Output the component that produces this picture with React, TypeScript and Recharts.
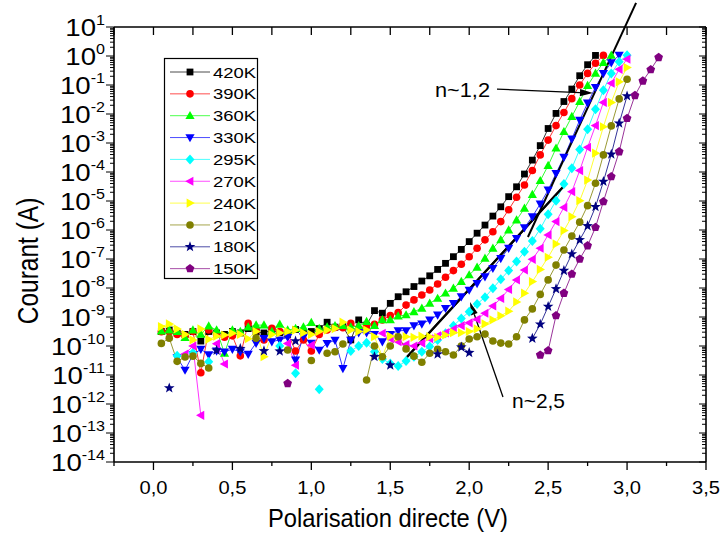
import { LineChart, Line, XAxis, YAxis, ReferenceLine } from "recharts";
/* eslint-disable  @typescript-eslint/no-explicit-any */

const FONT = "Arial, 'Liberation Sans', Helvetica, sans-serif";

// plot frame in page pixels (set by the chart margins and axis sizes below)
const PLOT_LEFT = 114;
const PLOT_RIGHT = 706;
const PLOT_TOP = 27;
const X_MIN = -0.25;
const X_MAX = 3.5;

// forward bias (V), one reading every 50 mV
const volts = [
  0.05, 0.1, 0.15, 0.2, 0.25, 0.3, 0.35, 0.4, 0.45, 0.5,
  0.55, 0.6, 0.65, 0.7, 0.75, 0.8, 0.85, 0.9, 0.95, 1.0,
  1.05, 1.1, 1.15, 1.2, 1.25, 1.3, 1.35, 1.4, 1.45, 1.5,
  1.55, 1.6, 1.65, 1.7, 1.75, 1.8, 1.85, 1.9, 1.95, 2.0,
  2.05, 2.1, 2.15, 2.2, 2.25, 2.3, 2.35, 2.4, 2.45, 2.5,
  2.55, 2.6, 2.65, 2.7, 2.75, 2.8, 2.85, 2.9, 2.95, 3.0,
  3.05, 3.1, 3.15, 3.2,
];

// log10 of the current (A), null = no point
const logI420 = [
  -9.5, -9.45, -9.55, -9.6, -9.5, -9.83, -9.5, -9.55, -9.6, -9.5,
  -9.55, -9.4, -9.5, -9.55, -9.45, -9.54, -9.6, -9.43, -9.55, -9.5,
  -9.4, -9.18, -9.35, -9.33, -9.79, -9.1, -9.28, -8.78, -8.87, -8.53,
  -8.3, -8.13, -7.95, -7.76, -7.58, -7.36, -7.15, -6.92, -6.67, -6.4,
  -6.11, -5.83, -5.52, -5.2, -4.85, -4.51, -4.07, -3.59, -3.09, -2.5,
  -1.98, -1.57, -1.14, -0.68, -0.3, 0.02,
];
const logI390 = [
  -9.51, -9.51, -9.6, -9.65, -9.5, -10.92, -9.45, -9.6, -9.7, -9.65,
  -10.34, -9.22, -9.45, -9.79, -9.39, -9.5, -9.55, -10.17, -9.79, -10.17,
  -9.6, -9.45, -9.36, -9.37, -9.22, -9.4, -9.3, -9.25, -9.1, -8.95,
  -8.85, -8.59, -8.41, -8.24, -8.07, -7.86, -7.63, -7.4, -7.18, -6.92,
  -6.63, -6.34, -6.06, -5.71, -5.3, -4.87, -4.45, -3.95, -3.41, -2.9,
  -2.4, -1.95, -1.47, -1.0, -0.6, -0.25, 0.02,
];
const logI360 = [
  -9.49, -9.45, -9.5, -9.71, -9.45, -9.6, -9.31, -9.45, -10.25, -9.45,
  -9.5, -9.35, -9.28, -9.28, -9.5, -9.25, -9.45, -9.4, -9.35, -9.19,
  -9.4, -9.35, -9.3, -9.3, -9.35, -9.3, -9.16, -9.3, -9.1, -9.1,
  -8.97, -8.93, -8.82, -8.7, -8.53, -8.36, -8.18, -8.01, -7.78, -7.55,
  -7.29, -6.98, -6.63, -6.34, -6.0, -5.66, -5.25, -4.78, -4.3, -3.78,
  -3.18, -2.61, -2.09, -1.57, -1.02, -0.6, -0.23, 0.02,
];
const logI330 = [
  null, null, -10.4, -10.83, -10.3, -10.11, -10.3, -10.17, -10.2, -10.11,
  -10.2, -10.28, -9.9, -9.74, -9.85, -9.79, -9.7, -10.48, -9.68, -9.9,
  -10.14, -9.91, -9.8, -10.77, -9.8, -9.54, -9.54, -9.6, -9.85, -9.6,
  -9.47, -9.47, -9.3, -9.24, -9.1, -8.93, -8.7, -8.53, -8.3, -8.07,
  -7.84, -7.61, -7.32, -6.98, -6.63, -6.29, -5.92, -5.54, -5.1, -4.62,
  -4.05, -3.49, -2.86, -2.21, -1.62, -1.08, -0.6, -0.23, 0.03,
];
const logI295 = [
  null, null, -10.34, null, -10.23, null, -10.54, null, null, null,
  null, null, null, null, null, -10.0, null, -10.94, null, null,
  -11.49, null, null, null, -10.17, -10.0, -9.89, -10.2, -10.45, -10.6,
  -10.69, -10.52, -10.37, -10.2, -10.02, -9.79, -9.56, -9.3, -9.05, -8.82,
  -8.55, -8.32, -8.01, -7.7, -7.4, -7.09, -6.75, -6.38, -5.96, -5.46,
  -4.99, -4.41, -3.87, -3.22, -2.53, -1.84, -1.18, -0.6, -0.2, 0.03,
];
const logI270 = [
  null, null, null, -10.28, -10.0, -12.39, null, -9.92, -10.62, null,
  null, null, null, null, null, null, -9.91, -10.66, null, -9.97,
  null, null, null, null, null, null, null, null, -9.56, -9.75,
  -9.85, -9.95, -10.0, -9.9, -9.75, -9.65, -9.55, -9.42, -9.3, -9.2,
  -9.08, -8.87, -8.62, -8.36, -8.05, -7.72, -7.38, -7.01, -6.63, -6.17,
  -5.71, -5.22, -4.68, -3.95, -3.15, -2.4, -1.6, -0.94, -0.46, -0.11,
];
const logI240 = [
  -9.33, -9.24, -9.41, -9.6, -9.79, -9.41, -9.77, -9.66, -9.62, -9.56,
  -9.6, -9.75, -9.5, -10.37, -9.6, -9.55, -9.5, -9.45, -9.55, -9.6,
  -9.5, -9.45, -9.4, -9.18, -9.45, -9.5, -9.45, -9.68, -10.37, -9.66,
  -9.7, -9.68, -9.7, -9.66, -9.68, -9.7, -9.62, -9.54, -9.54, -9.5,
  -9.41, -9.24, -9.1, -8.96, -8.8, -8.48, -8.18, -7.78, -7.36, -6.94,
  -6.48, -6.02, -5.54, -4.99, -4.28, -3.35, -2.44, -1.6, -0.89, -0.4,
];
const logI210 = [
  -9.91, -9.73, -10.53, -10.38, -10.35, -10.6, -10.76, null, null, null,
  null, null, -9.73, null, null, null, -10.14, null, null, -10.5,
  null, -10.25, -10.2, -9.93, null, null, -11.17, -10.0, -10.37, -10.0,
  -9.68, -10.1, -10.35, -10.56, -10.25, -10.11, -10.2, -10.31, -10.0, -9.76,
  -9.68, -9.59, -9.83, -9.9, -9.93, -9.68, -9.1, -8.72, -8.22, -7.72,
  -7.21, -6.69, -6.21, -5.73, -5.16, -4.39, -3.41, -2.41, -1.48, -0.8,
];
const logI180 = [
  null, -11.45, null, null, null, null, null, -10.15, null, null,
  -10.09, null, null, -10.17, null, -10.18, null, -9.83, null, null,
  null, null, null, null, null, null, null, -10.37, null, -10.66,
  null, null, null, null, null, -10.28, null, null, -10.04, -10.23,
  null, null, null, null, null, null, null, -9.74, -9.25, -8.64,
  -8.03, -7.4, -6.83, -6.34, -5.86, -5.2, -4.33, -3.39, -2.32, -1.38,
];
const logI150 = [
  null, null, null, null, null, null, null, null, null, null,
  null, null, null, null, null, null, -11.29, null, null, null,
  null, null, null, null, null, null, null, null, null, null,
  null, null, null, null, null, null, null, null, null, null,
  null, null, null, null, null, null, null, null, -10.31, -10.16,
  -8.95, -8.18, -7.52, -7.0, -6.54, -5.91, -5.02, -4.16, -3.3, -2.15,
  -1.36, -0.86, -0.47, -0.05,
];

const temps = ["420K", "390K", "360K", "330K", "295K", "270K", "240K", "210K", "180K", "150K"];
const colors = ["#000000", "#ff0000", "#00ff00", "#0000ff", "#00ffff", "#ff00ff", "#ffff00", "#808000", "#000080", "#800080"];
const markers = ["square", "circle", "up", "down", "diamond", "left", "right", "circle", "star", "pentagon"];
const logs: (number | null)[][] = [logI420, logI390, logI360, logI330, logI295, logI270, logI240, logI210, logI180, logI150];

// fitted slopes drawn over the data (V, log10 I)
const fitLowV = [1.606, 2.594];
const fitLowLogI = [-10.38, -4.52];

const xTicks = [-0.25, 0, 0.25, 0.5, 0.75, 1, 1.25, 1.5, 1.75, 2, 2.25, 2.5, 2.75, 3, 3.25, 3.5];
const xTickLabels: Record<string, string> = {
  "0": "0,0", "0.5": "0,5", "1": "1,0", "1.5": "1,5", "2": "2,0", "2.5": "2,5", "3": "3,0", "3.5": "3,5",
};

// decade ticks with 2..9 minor ticks in between
const yTicks: number[] = [];
for (let n = -14; n < 1; n++) {
  for (let m = 1; m < 10; m++) yTicks.push(m * Math.pow(10, n));
}
yTicks.push(10);

const series = temps.map((name, i) => ({ name, color: colors[i], marker: markers[i], logI: logs[i] }));

const chartData = volts.map((v, i) => {
  const row: any = { v };
  series.forEach((s) => {
    const lg = s.logI[i];
    row[s.name] = lg === null || lg === undefined ? null : Math.pow(10, lg);
  });
  return row;
});

const fitLowData = fitLowV.map((v, i) => ({ v, fit: Math.pow(10, fitLowLogI[i]) }));

const topTickX = (v: number) => PLOT_LEFT + ((v - X_MIN) / (X_MAX - X_MIN)) * (PLOT_RIGHT - PLOT_LEFT);

function Marker({ cx, cy, kind, color }: any) {
  switch (kind) {
    case "square":
      return <rect x={cx - 3.4} y={cy - 3.4} width={6.8} height={6.8} fill={color} />;
    case "circle":
      return <circle cx={cx} cy={cy} r={3.8} fill={color} />;
    case "up":
      return <polygon points={`${cx},${cy - 4.8} ${cx + 4.6},${cy + 3.4} ${cx - 4.6},${cy + 3.4}`} fill={color} />;
    case "down":
      return <polygon points={`${cx},${cy + 4.8} ${cx + 4.6},${cy - 3.4} ${cx - 4.6},${cy - 3.4}`} fill={color} />;
    case "left":
      return <polygon points={`${cx - 4.8},${cy} ${cx + 3.4},${cy - 4.6} ${cx + 3.4},${cy + 4.6}`} fill={color} />;
    case "right":
      return <polygon points={`${cx + 4.8},${cy} ${cx - 3.4},${cy - 4.6} ${cx - 3.4},${cy + 4.6}`} fill={color} />;
    case "diamond":
      return <polygon points={`${cx},${cy - 5} ${cx + 4.5},${cy} ${cx},${cy + 5} ${cx - 4.5},${cy}`} fill={color} />;
    case "star": {
      const pts: string[] = [];
      for (let k = 0; k < 10; k++) {
        const r = k % 2 === 0 ? 5.6 : 2.3;
        const a = -Math.PI / 2 + (k * Math.PI) / 5;
        pts.push(`${cx + r * Math.cos(a)},${cy + r * Math.sin(a)}`);
      }
      return <polygon points={pts.join(" ")} fill={color} />;
    }
    default: {
      const pts: string[] = [];
      for (let k = 0; k < 5; k++) {
        const a = -Math.PI / 2 + (k * 2 * Math.PI) / 5;
        pts.push(`${cx + 4.6 * Math.cos(a)},${cy + 4.6 * Math.sin(a)}`);
      }
      return <polygon points={pts.join(" ")} fill={color} />;
    }
  }
}

const isDecade = (v: number) => {
  const lg = Math.log10(v);
  return Math.abs(lg - Math.round(lg)) < 1e-6;
};

const BottomTick = (props: any) => {
  const { x, y, payload } = props;
  const v = payload.value;
  const major = Math.abs(v * 2 - Math.round(v * 2)) < 1e-6;
  const label = xTickLabels[String(v)];
  return (
    <g>
      <line x1={x} x2={x} y1={y} y2={y + (major ? 8 : 4)} stroke="#000" strokeWidth={1.3} />
      {label && (
        <text x={x} y={y + 32} textAnchor="middle" fontFamily={FONT} fontSize={17.5} textLength={28} lengthAdjust="spacingAndGlyphs" fill="#000">
          {label}
        </text>
      )}
    </g>
  );
};

const LeftTick = (props: any) => {
  const { x, y, payload } = props;
  const major = isDecade(payload.value);
  const exp = Math.round(Math.log10(payload.value));
  return (
    <g>
      <line x1={x} x2={x - (major ? 8 : 4)} y1={y} y2={y} stroke="#000" strokeWidth={1} />
      {major && (
        <text transform={`translate(${x - 9},${y + 8.5}) scale(1.15,1)`} textAnchor="end" fontFamily={FONT} fontSize={24} fill="#000">
          10
          <tspan dy={-11} fontSize={14}>
            {exp}
          </tspan>
        </text>
      )}
    </g>
  );
};

const RightTick = (props: any) => {
  const { x, y, payload } = props;
  const major = isDecade(payload.value);
  return <line x1={x} x2={x - (major ? 7 : 4)} y1={y} y2={y} stroke="#000" strokeWidth={1} />;
};

const ArrowShape = (props: any) => {
  const { x1, y1, x2, y2 } = props;
  const ang = Math.atan2(y2 - y1, x2 - x1);
  const len = 13;
  const half = 3.6;
  const bx = x2 - len * Math.cos(ang);
  const by = y2 - len * Math.sin(ang);
  const px = -Math.sin(ang) * half;
  const py = Math.cos(ang) * half;
  return (
    <g>
      <line x1={x1} y1={y1} x2={bx} y2={by} stroke="#000" strokeWidth={1.3} />
      <polygon points={`${x2},${y2} ${bx + px},${by + py} ${bx - px},${by - py}`} fill="#000" />
    </g>
  );
};

const axisStyle = { stroke: "#000", strokeWidth: 1.6 };

export default function App() {
  return (
    <div style={{ position: "relative", width: 723, height: 533, background: "#fff" }}>
      <style>{"body{margin:0}"}</style>
      <LineChart width={723} height={533} data={chartData} margin={{ top: 17, right: 7, bottom: 31, left: 14 }}>
        <XAxis
          xAxisId="bottom"
          dataKey="v"
          type="number"
          scale="linear"
          domain={[X_MIN, X_MAX]}
          allowDataOverflow
          ticks={xTicks}
          interval={0}
          height={40}
          tickLine={false}
          tickSize={0}
          tickMargin={0}
          axisLine={axisStyle}
          tick={(p: any) => <BottomTick {...p} />}
        />
        <XAxis
          xAxisId="top"
          dataKey="v"
          orientation="top"
          type="number"
          domain={[X_MIN, X_MAX]}
          allowDataOverflow
          height={10}
          tickLine={false}
          tick={false}
          axisLine={axisStyle}
        />
        <YAxis
          yAxisId="left"
          type="number"
          scale="log"
          domain={[1e-14, 10]}
          allowDataOverflow
          ticks={yTicks}
          interval={0}
          width={100}
          tickLine={false}
          tickSize={0}
          tickMargin={0}
          axisLine={axisStyle}
          tick={(p: any) => <LeftTick {...p} />}
        />
        <YAxis
          yAxisId="right"
          orientation="right"
          type="number"
          scale="log"
          domain={[1e-14, 10]}
          allowDataOverflow
          ticks={yTicks}
          interval={0}
          width={10}
          tickLine={false}
          tickSize={0}
          tickMargin={0}
          axisLine={axisStyle}
          tick={(p: any) => <RightTick {...p} />}
        />

        {series.map((s) => (
          <Line
            key={s.name}
            xAxisId="bottom"
            yAxisId="left"
            type="linear"
            dataKey={s.name}
            stroke={s.color}
            strokeWidth={1}
            strokeOpacity={0.8}
            connectNulls={false}
            isAnimationActive={false}
            activeDot={false}
            dot={(p: any) =>
              p.cy == null || p.value == null ? (
                <g key={`${s.name}-${p.index}`} />
              ) : (
                <Marker key={`${s.name}-${p.index}`} cx={p.cx} cy={p.cy} kind={s.marker} color={s.color} />
              )
            }
          />
        ))}

        {/* n~2,5 fit */}
        <Line
          xAxisId="bottom"
          yAxisId="left"
          data={fitLowData}
          dataKey="fit"
          type="linear"
          stroke="#000"
          strokeWidth={2.2}
          dot={false}
          activeDot={false}
          isAnimationActive={false}
        />
        <ReferenceLine
          xAxisId="bottom"
          yAxisId="left"
          ifOverflow="visible"
          segment={[{ x: fitLowV[0], y: Math.pow(10, fitLowLogI[0]) }, { x: fitLowV[1], y: Math.pow(10, fitLowLogI[1]) }]}
          stroke="#000"
          strokeWidth={2}
        />

        {/* n~1,2 fit runs past the top frame */}
        <ReferenceLine
          xAxisId="bottom"
          yAxisId="left"
          ifOverflow="visible"
          segment={[{ x: 3.057, y: Math.pow(10, 1.83) }, { x: 2.372, y: Math.pow(10, -6.24) }]}
          stroke="#000"
          strokeWidth={2}
        />
        <ReferenceLine
          xAxisId="bottom"
          yAxisId="left"
          ifOverflow="visible"
          segment={[{ x: 2.176, y: Math.pow(10, -1.14) }, { x: 2.784, y: Math.pow(10, -1.28) }]}
          shape={(p: any) => <ArrowShape {...p} />}
        />
        <ReferenceLine
          xAxisId="bottom"
          yAxisId="left"
          ifOverflow="visible"
          segment={[{ x: 2.214, y: Math.pow(10, -11.76) }, { x: 2.005, y: Math.pow(10, -8.48) }]}
          shape={(p: any) => <ArrowShape {...p} />}
        />
      </LineChart>

      <svg
        width={723}
        height={533}
        style={{ position: "absolute", left: 0, top: 0, pointerEvents: "none", overflow: "visible" }}
      >
        {/* inward ticks on the top frame */}
        {xTicks.map((t) => (
          <line key={t} x1={topTickX(t)} x2={topTickX(t)} y1={PLOT_TOP} y2={PLOT_TOP + 8} stroke="#000" strokeWidth={1.3} />
        ))}

        <text x={388} y={527} textAnchor="middle" fontFamily={FONT} fontSize={25} textLength={240} lengthAdjust="spacingAndGlyphs">
          Polarisation directe (V)
        </text>
        <text transform="translate(38,261) scale(1.17,1) rotate(-90)" textAnchor="middle" fontFamily={FONT} fontSize={24.5}>
          Courant (A)
        </text>
        <text x={435} y={97} fontFamily={FONT} fontSize={20} textLength={55} lengthAdjust="spacingAndGlyphs">
          n~1,2
        </text>
        <text x={512} y={408} fontFamily={FONT} fontSize={21} textLength={53} lengthAdjust="spacingAndGlyphs">
          n~2,5
        </text>

        <rect x={164.5} y={58.5} width={93} height={220} fill="#fff" stroke="#000" strokeWidth={1.2} />
        {series.map((s, i) => {
          const cy = 72 + i * 21.85;
          return (
            <g key={s.name}>
              <line x1={170} x2={210} y1={cy} y2={cy} stroke={s.color} strokeWidth={1} strokeOpacity={0.7} />
              <Marker cx={190} cy={cy} kind={s.marker} color={s.color} />
              <text x={213} y={cy + 5.6} fontFamily={FONT} fontSize={15.5} textLength={43} lengthAdjust="spacingAndGlyphs">
                {s.name}
              </text>
            </g>
          );
        })}
      </svg>
    </div>
  );
}
